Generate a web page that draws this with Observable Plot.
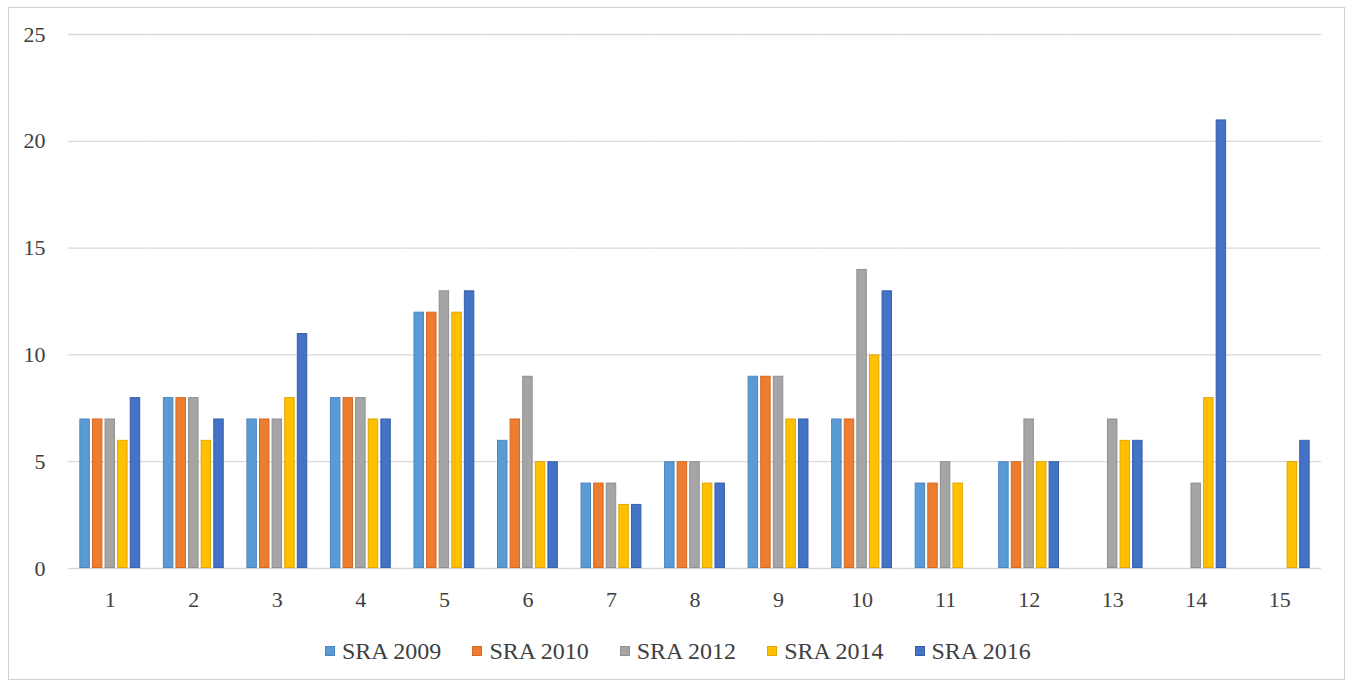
<!DOCTYPE html>
<html>
<head>
<meta charset="utf-8">
<script src="https://cdn.jsdelivr.net/npm/d3@7"></script>
<script src="https://cdn.jsdelivr.net/npm/@observablehq/plot@0.6"></script>
<style>
  html, body { margin: 0; padding: 0; background: #fff; }
  #wrap { position: relative; width: 1348px; height: 683px; overflow: hidden; }
  #frame { position: absolute; left: 8px; top: 7px; width: 1337px; height: 673px; border: 1px solid #d0d0d0; box-sizing: border-box; pointer-events: none; }
  #chart { position: absolute; left: 0; top: 0; }
  #legend { position: absolute; left: 325px; top: 639px; height: 24px; display: flex; align-items: center;
            font-family: "Liberation Serif", "Times New Roman", serif; font-size: 24px; color: #404040; }
  .item { display: flex; align-items: center; margin-right: 31px; }
  .sw { width: 10px; height: 10px; margin-right: 7px; box-sizing: border-box; }
</style>
</head>
<body>
<div id="wrap">
  <div id="chart"></div>
  <div id="legend"></div>
  <div id="frame"></div>
</div>
<script>
const categories = ["1","2","3","4","5","6","7","8","9","10","11","12","13","14","15"];
const seriesNames = ["SRA 2009","SRA 2010","SRA 2012","SRA 2014","SRA 2016"];
const sra2009 = [7, 8, 7, 8, 12, 6, 4, 5, 9, 7, 4, 5, null, null, null];
const sra2010 = [7, 8, 7, 8, 12, 7, 4, 5, 9, 7, 4, 5, null, null, null];
const sra2012 = [7, 8, 7, 8, 13, 9, 4, 5, 9, 14, 5, 7, 7, 4, null];
const sra2014 = [6, 6, 8, 7, 12, 5, 3, 4, 7, 10, 4, 5, 6, 8, 5];
const sra2016 = [8, 7, 11, 7, 13, 5, 3, 4, 7, 13, null, 5, 6, 21, 6];
const yTicks = [0, 5, 10, 15, 20, 25];

const fills = ["#5B9BD5", "#ED7D31", "#A5A5A5", "#FFC000", "#4472C4"];
const strokes = ["#4A86BF", "#D46A22", "#8F8F8F", "#E0A800", "#3560AD"];

const allSeries = [sra2009, sra2010, sra2012, sra2014, sra2016];
const data = [];
categories.forEach((c, i) => {
  allSeries.forEach((s, j) => {
    if (s[i] != null) data.push({cat: c, series: seriesNames[j], value: s[i]});
  });
});

const font = '"Liberation Serif", "Times New Roman", serif';

const chart = Plot.plot({
  width: 1348,
  height: 620,
  marginLeft: 68,
  marginRight: 27,
  marginTop: 34,
  marginBottom: 52,
  style: { fontFamily: font, fontSize: "22px", color: "#404040", background: "transparent" },
  fx: { domain: categories, padding: 0, round: false, label: null, tickSize: 0, tickPadding: 23 },
  x: { domain: seriesNames, paddingInner: 0.17, paddingOuter: 0.9, round: false, axis: null },
  y: { domain: [0, 25], ticks: yTicks, label: null, tickSize: 0, tickPadding: 23 },
  color: { domain: seriesNames, range: fills },
  marks: [
    Plot.ruleY(yTicks, { stroke: "#d9d9d9", strokeWidth: 1.3 }),
    Plot.barY(data, {
      fx: "cat", x: "series", y: "value",
      fill: "series",
      stroke: d => strokes[seriesNames.indexOf(d.series)],
      strokeWidth: 1,
      inset: 0.5
    })
  ]
});
document.getElementById("chart").appendChild(chart);

const legend = document.getElementById("legend");
seriesNames.forEach((name, j) => {
  const item = document.createElement("div");
  item.className = "item";
  const sw = document.createElement("div");
  sw.className = "sw";
  sw.style.background = fills[j];
  sw.style.border = "1px solid " + strokes[j];
  const t = document.createElement("span");
  t.textContent = name;
  item.appendChild(sw);
  item.appendChild(t);
  legend.appendChild(item);
});
</script>
</body>
</html>
